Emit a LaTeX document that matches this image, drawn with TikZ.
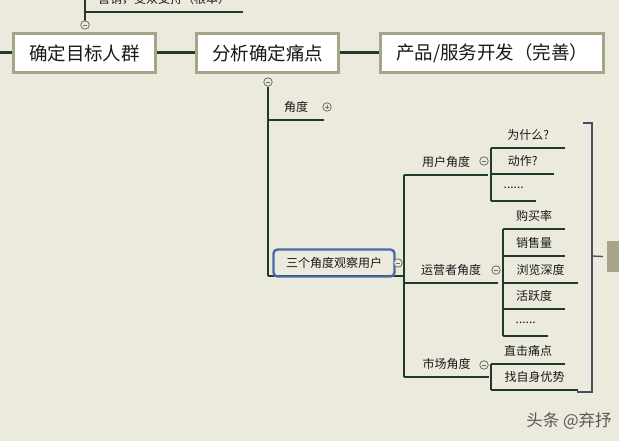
\documentclass[tikz,border=0pt]{standalone}
\usepackage{fontspec}
\setmainfont{Noto Sans CJK SC}
\usepackage{tikz}
\usetikzlibrary{positioning}
\usepackage{xcolor}
\definecolor{mapbg}{RGB}{236,233,221}
\definecolor{mapline}{RGB}{30,58,44}
\definecolor{mapframe}{RGB}{168,164,138}
\definecolor{mapblue}{RGB}{74,106,168}
\definecolor{mapbracket}{RGB}{70,78,95}
\definecolor{maptext}{RGB}{25,25,25}

\begin{document}
\begin{tikzpicture}[
    x=1pt, y=-1pt,
    mainbox/.style={anchor=west, draw=mapframe, line width=3pt, fill=white, inner xsep=15.5pt, inner ysep=0pt, minimum height=39pt, font=\fontsize{18.5}{20}\selectfont, text=maptext},
    topic/.style={anchor=south west, inner sep=0pt, minimum height=26pt, font=\fontsize{12}{13}\selectfont, text=maptext},
    trunk/.style={draw=mapline, line width=3pt},
    stem/.style={draw=mapline, line width=2pt},
    leaf/.style={draw=mapline, line width=1.2pt},
    bracket/.style={draw=mapbracket, line width=1.3pt},
    marker/.style={circle, draw=gray!85!black, fill=mapbg, line width=0.8pt, minimum size=8.5pt, inner sep=0pt},
    foldminus/.style={marker, path picture={\draw[gray!85!black, line width=0.7pt] ([xshift=-2pt]path picture bounding box.center) -- ([xshift=2pt]path picture bounding box.center);}},
    foldplus/.style={marker, path picture={\draw[gray!85!black, line width=0.7pt] ([xshift=-2pt]path picture bounding box.center) -- ([xshift=2pt]path picture bounding box.center) ([yshift=-2pt]path picture bounding box.center) -- ([yshift=2pt]path picture bounding box.center);}},
]
    % Page
    \useasboundingbox (0,0) rectangle (619,441);
    \fill[mapbg] (0,0) rectangle (619,441);
    \clip (0,0) rectangle (619,441);

    % Main topics
    \coordinate (rootin) at (0,53);
    \node[mainbox] (target) at (12,53) {确定目标人群};
    \node[mainbox] (pain) at (195,53) {分析确定痛点};
    \node[mainbox] (product) at (379,53) {产品/服务开发（完善）};
    \draw[trunk] (rootin) -- (target);
    \draw[trunk] (target) -- (pain);
    \draw[trunk] (pain) -- (product);

    % Branch above the target group
    \coordinate (targettop) at (85,0);
    \node[topic, minimum width=158pt] (support) at (85,12) {营销，受众支持（根本）};
    \draw[stem] (85,21) -- (targettop);
    \draw[leaf] (support.south west) -- (support.south east);
    \node[foldminus] (targetfold) at (85,25) {};

    % Branch below the pain points
    \coordinate (threeL) at (268,276);
    \coordinate (threeR) at (404,276);
    \node[foldminus] (painfold) at (268,82) {};
    \draw[stem] (painfold) -- (threeL);
    \node[topic, minimum width=56pt] (angle) at (268,120) {角度};
    \draw[leaf] (angle.south west) -- (angle.south east);
    \node[foldplus] (anglefold) at (327,107) {};
    \draw[leaf] (threeL) -- (threeR);
    \node[draw=mapblue, line width=2.4pt, rounded corners=4pt, minimum width=121pt, minimum height=27pt, inner sep=0pt, font=\fontsize{12}{13}\selectfont, text=maptext] (three) at (334,263) {三个角度观察用户};
    \node[foldminus] (threefold) at (398,263) {};

    % Three viewpoints
    \node[topic, minimum width=84pt] (user) at (404,175) {用户角度};
    \node[topic, minimum width=94pt] (operator) at (404,283) {运营者角度};
    \node[topic, minimum width=85pt] (market) at (404,377) {市场角度};
    \draw[stem] (user.south west) -- (market.south west);
    \node[foldminus] (userfold) at (484,161) {};
    \node[foldminus] (operatorfold) at (496,270) {};
    \node[foldminus] (marketfold) at (484,365) {};

    % User view
    \node[topic, minimum width=74pt] (why) at (491,148) {为什么?};
    \node[topic, minimum width=63pt] (action) at (491,174) {动作?};
    \node[topic, minimum width=45pt] (usermore) at (491,201) {......};
    \draw[stem] (why.south west) -- (usermore.south west);

    % Operator view
    \node[topic, minimum width=62pt] (buy) at (503,229) {购买率};
    \node[topic, minimum width=62pt] (sales) at (503,256) {销售量};
    \node[topic, minimum width=75pt] (depth) at (503,283) {浏览深度};
    \node[topic, minimum width=62pt] (active) at (503,309) {活跃度};
    \node[topic, minimum width=45pt] (opmore) at (503,336) {......};
    \draw[stem] (buy.south west) -- (opmore.south west);

    % Market view
    \node[topic, minimum width=74pt] (hit) at (491,364) {直击痛点};
    \node[topic, minimum width=87pt] (strength) at (491,390) {找自身优势};
    \draw[stem] (hit.south west) -- (strength.south west);

    % Underlines
    \foreach \n in {user,operator,market,why,action,usermore,buy,sales,depth,active,opmore,hit,strength}
        \draw[leaf] (\n.south west) -- (\n.south east);

    % Summary bracket
    \coordinate (bracetop) at (583,123);
    \coordinate (bracebot) at (577,392);
    \coordinate (bracemid) at (592,256);
    \node[anchor=west, fill=mapframe, minimum width=40pt, minimum height=31pt, inner sep=0pt] (summary) at (607,256.5) {};
    \draw[bracket] (bracetop) -- ++(9,0) |- (bracebot);
    \draw[bracket] (bracemid) -- ([xshift=-4pt]summary.west);

    % Watermark
    \node[font=\fontsize{16.5}{18}\selectfont, text=gray!70!black] (mark) at (569,421) {头条 @弃抒};

\end{tikzpicture}
\end{document}
